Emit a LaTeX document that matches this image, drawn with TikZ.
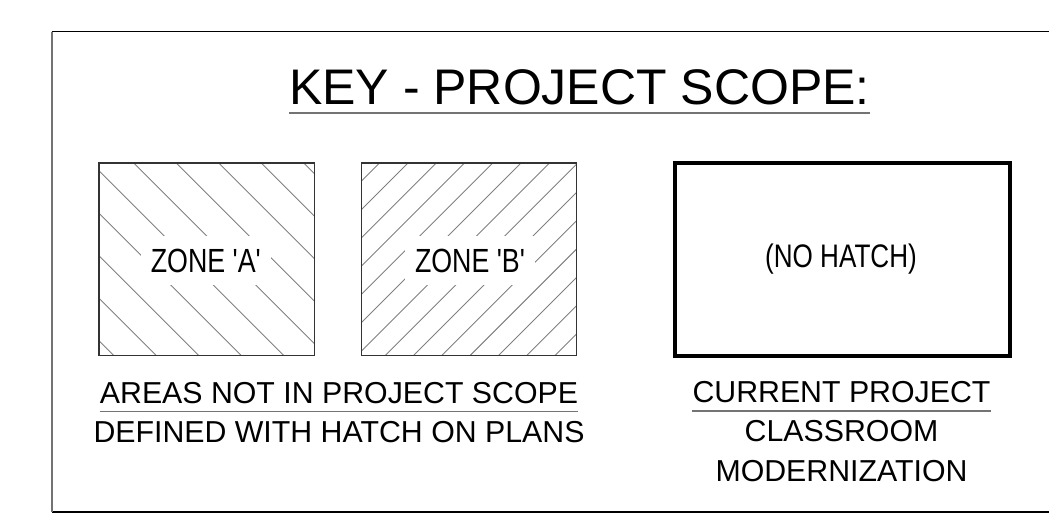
\documentclass[tikz,border=0pt]{standalone}
\usepackage{fontspec}
\setmainfont{Liberation Sans}
\newfontfamily\narrowfont[FakeStretch=0.8]{Liberation Sans}
\definecolor{hatchgray}{gray}{0.5}
\definecolor{rulegray}{gray}{0.45}
\definecolor{edgegray}{gray}{0.2}
\tikzset{
  titletext/.style={font=\fontsize{50}{60}\selectfont, anchor=base, inner sep=0pt},
  captiontext/.style={font=\fontsize{30.3}{36}\selectfont, anchor=base, inner sep=0pt},
  zonebox/.style={draw=none, minimum width=215pt, minimum height=192pt, inner sep=0pt},
  zoneedge/.style={draw=edgegray, line width=1.4pt},
  scopebox/.style={draw=black, line width=3.4pt, minimum width=335pt, minimum height=193pt, inner sep=0pt},
  zonelabel/.style={font=\narrowfont\fontsize{33.5}{40}\selectfont, anchor=base, fill=white,
    text height=24pt, text depth=0pt, inner xsep=10pt, inner ysep=12.5pt},
  scopelabel/.style={font=\narrowfont\fontsize{32.6}{40}\selectfont, anchor=base, inner sep=0pt},
  hatchline/.style={draw=hatchgray, line width=0.9pt},
  underrule/.style={draw=rulegray, line width=1.6pt},
  sheetedge/.style={draw=black, line width=1.6pt},
  sheetside/.style={draw=rulegray, line width=2pt},
}
\begin{document}
\begin{tikzpicture}[x=1pt,y=-1pt]
\useasboundingbox (0,0) rectangle (1049,520);

% sheet border: left side, top and bottom edges
\coordinate (tl) at (51.7,31.5);
\coordinate (bl) at (51.7,511.7);
\coordinate (tr) at (1049,31.5);
\coordinate (br) at (1049,511.7);
\draw[sheetedge] (tl) -- (tr);
\draw[sheetedge] (bl) -- (br);
\draw[sheetside] (tl) -- (bl);

% heading
\node[titletext] (title) at (579.5,104) {KEY - PROJECT SCOPE:};
\draw[underrule] ([yshift=-9pt]title.base west) -- ([yshift=-9pt]title.base east);

% zone A: back-slash hatch
\node[zonebox] (boxA) at (206.5,259) {};
\begin{scope}
  \clip (boxA.north west) rectangle (boxA.south east);
  \foreach \k in {-6,...,5}
    \draw[hatchline] (90,{90+71.7+42.5*\k}) -- (330,{330+71.7+42.5*\k});
\end{scope}
\node[zonelabel] (labelA) at (205.8,272.3) {ZONE 'A'};
\draw[zoneedge] (boxA.north west) rectangle (boxA.south east);

% zone B: forward-slash hatch
\node[zonebox] (boxB) at (469,259) {};
\begin{scope}
  \clip (boxB.north west) rectangle (boxB.south east);
  \foreach \k in {-9,...,8}
    \draw[hatchline] (350,{740.7+28.3*\k-350}) -- (590,{740.7+28.3*\k-590});
\end{scope}
\node[zonelabel] (labelB) at (470,272.3) {ZONE 'B'};
\draw[zoneedge] (boxB.north west) rectangle (boxB.south east);

% current project: plain heavy outline
\node[scopebox] (boxC) at (842.5,259.5) {};
\node[scopelabel] (labelC) at (841,267.7) {(NO HATCH)};

% captions under the zones
\node[captiontext] (capA1) at (339,403.3) {AREAS NOT IN PROJECT SCOPE};
\draw[underrule] ([yshift=-8pt]capA1.base west) -- ([yshift=-8pt]capA1.base east);
\node[captiontext] (capA2) at (339,442.5) {DEFINED WITH HATCH ON PLANS};

\node[captiontext] (capC1) at (841.5,402.3) {CURRENT PROJECT};
\draw[underrule] ([yshift=-8.7pt]capC1.base west) -- ([yshift=-8.7pt]capC1.base east);
\node[captiontext] (capC2) at (841.5,441.7) {CLASSROOM};
\node[captiontext] (capC3) at (841.5,481.7) {MODERNIZATION};
\end{tikzpicture}
\end{document}
